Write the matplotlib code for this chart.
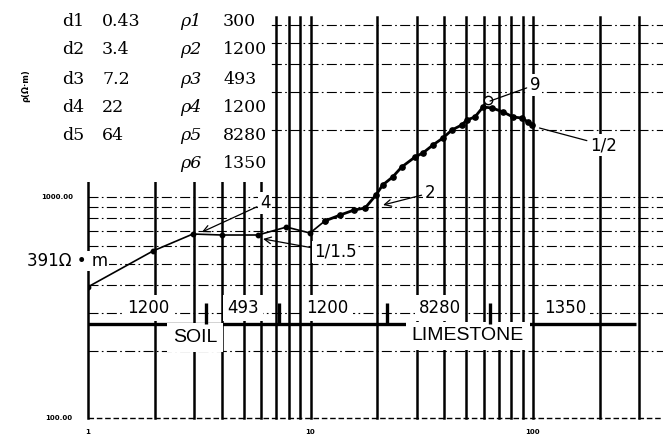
import numpy as np
import matplotlib
matplotlib.use("Agg")
import matplotlib.pyplot as plt
from matplotlib.patches import Rectangle
from matplotlib.ticker import NullLocator

# apparent resistivity (electrode spacing, ohm-m)
spacing = [1, 1.96, 2.96, 4.0, 5.8, 7.8, 9.95, 11.6, 13.6, 15.7, 17.6, 19.7,
           21.1, 23.4, 25.7, 29.5, 32, 35.5, 39.4, 43.2, 47.8, 50.4, 54.8,
           59.6, 65.4, 73.3, 81.3, 89.3, 95, 99]
rho_app = [392, 570, 680, 673, 673, 731, 687, 779, 829, 873, 892, 1021,
           1133, 1232, 1367, 1517, 1582, 1719, 1850, 2010, 2117, 2230, 2301,
           2553, 2529, 2427, 2301, 2277, 2183, 2117]

# layered model table
d_names = ["d1", "d2", "d3", "d4", "d5"]
d_vals = ["0.43", "3.4", "7.2", "22", "64"]
rho_names = ["ρ1", "ρ2", "ρ3", "ρ4", "ρ5", "ρ6"]
rho_vals = ["300", "1200", "493", "1200", "8280", "1350"]

# layer boundaries and the resistivity written in each band
boundaries = [3.4, 7.2, 22, 64]
band_labels = ["1200", "493", "1200", "8280", "1350"]
band_x = [1.86, 4.97, 11.9, 38.2, 139]

# curve-matching marks: label, text position, target point, arrow style
marks = [
    ("4",     (6.25, 939),  (3.25, 694),  "->"),
    ("1/1.5", (12.9, 564),  (6.12, 646),  "->"),
    ("2",     (34.4, 1042), (21.2, 920),  "->"),
    ("9",     (102, 3213),  (64.1, 2718), "-"),
    ("1/2",   (207, 1719),  (107, 2052),  "-"),
]

SANS = "DejaVu Sans"
SERIF = "DejaVu Serif"

fig = plt.figure(figsize=(6.63, 4.38), dpi=100)
ax = fig.add_axes([88/663, 20/438, 575/663, 401/438])
ax.set_xscale("log")
ax.set_yscale("log")
ax.set_xlim(1, 10**(575/222.5))
ax.set_ylim(100, 10**(2 + 401/221))
for s in ax.spines.values():
    s.set_visible(False)

# log paper grid
vgrid = [m * 10**k for k in range(3) for m in range(1, 10) if m * 10**k < 380]
hgrid = [m * 10**k for k in (2, 3) for m in range(1, 10)
         if 100 < m * 10**k < 6500]
for x in vgrid:
    ax.axvline(x, color="black", lw=1.8, zorder=1, clip_on=False)
for y in hgrid:
    ax.axhline(y, color="black", lw=0.8, dashes=(9, 3, 1.5, 3), zorder=1)
ax.axhline(100, color="black", lw=1.0, dashes=(4, 2), zorder=1, clip_on=False)

# blank area behind the model table
ax.add_patch(Rectangle((-0.01, 0.5885), 0.3265, 0.43, transform=ax.transAxes,
                       fc="white", ec="none", zorder=2, clip_on=False))

# layer strip
ax.plot([1, 290], [266, 266], color="black", lw=2.4, zorder=3,
        solid_capstyle="butt")
for lab, x in zip(band_labels, band_x):
    ax.text(x, 315, lab, ha="center", va="center", fontsize=12,
            family=SANS, zorder=4,
            bbox=dict(boxstyle="square,pad=0.25", fc="white", ec="none"))
for d in boundaries:
    ax.plot([d, d], [266, 332], color="black", lw=2.4, zorder=5,
            solid_capstyle="butt")
for lab, x, y in [("SOIL", 3.03, 232), ("LIMESTONE", 51, 235)]:
    ax.text(x, y, lab, ha="center", va="center", fontsize=14,
            family="Liberation Sans", zorder=4,
            bbox=dict(boxstyle="square,pad=0.3", fc="white", ec="none"))

# sounding curve
ax.plot(spacing[:8], rho_app[:8], color="black", lw=1.2, marker="o", ms=3.2,
        zorder=6)
ax.plot(spacing[7:], rho_app[7:], color="black", lw=2.0, marker="o", ms=3.8,
        zorder=6)
ax.plot(62.8, 2747, marker="o", ms=6, mfc="white", mec="black", mew=1.0,
        zorder=7)

for lab, txy, pxy, style in marks:
    ax.annotate(lab, xy=pxy, xytext=txy, ha="center", va="center",
                fontsize=12, family=SANS, zorder=8,
                bbox=dict(boxstyle="square,pad=0.1", fc="white", ec="none"),
                arrowprops=dict(arrowstyle=style, color="black", lw=0.9,
                                shrinkA=1, shrinkB=0))

fig.text(27/663, 1 - 261/438, "391Ω • m", ha="left", va="center",
         fontsize=12, family=SANS, zorder=9,
         bbox=dict(boxstyle="square,pad=0.05", fc="white", ec="none"))

# ticks
ax.set_xticks([1, 10, 100], ["1", "10", "100"])
ax.set_yticks([100, 1000], ["100.00", "1000.00"])
ax.xaxis.set_minor_locator(NullLocator())
ax.yaxis.set_minor_locator(NullLocator())
ax.tick_params(length=0, labelsize=5)
ax.tick_params(axis="x", pad=8)
ax.tick_params(axis="y", pad=11)
for t in ax.get_xticklabels() + ax.get_yticklabels():
    t.set_fontweight("bold")

fig.text(26/663, 1 - 86/438, "ρ(Ω·m)", rotation=90, ha="center",
         va="center", fontsize=6, fontweight="bold", zorder=9)

# model table
rows_y = [22, 50, 79, 107, 135, 163]
for i, (n, v) in enumerate(zip(d_names, d_vals)):
    fig.text(62/663, 1 - rows_y[i]/438, n, ha="left", va="center",
             fontsize=12.5, family=SERIF, zorder=9)
    fig.text(102/663, 1 - rows_y[i]/438, v, ha="left", va="center",
             fontsize=12.5, family=SERIF, zorder=9)
for i, (n, v) in enumerate(zip(rho_names, rho_vals)):
    fig.text(180/663, 1 - rows_y[i]/438, n, ha="left", va="center",
             fontsize=12.5, family=SERIF, style="italic", zorder=9)
    fig.text(223/663, 1 - rows_y[i]/438, v, ha="left", va="center",
             fontsize=12.5, family=SERIF, zorder=9)

fig.savefig("out.png", dpi=100, facecolor="white")
